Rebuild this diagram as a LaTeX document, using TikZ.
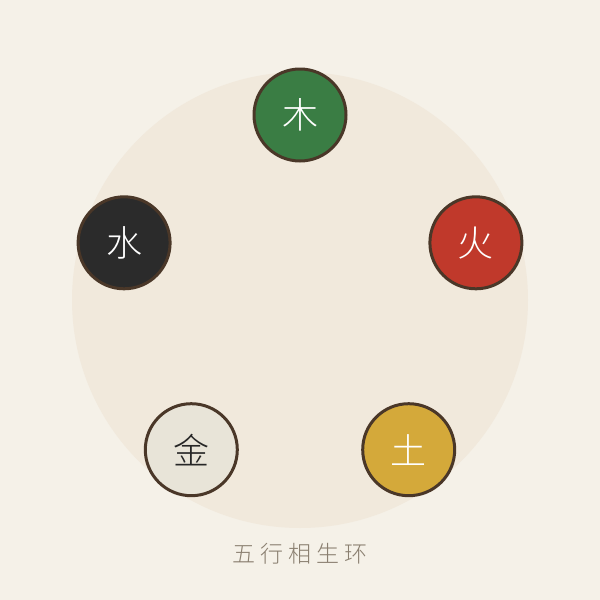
\documentclass[tikz,border=0pt]{standalone}
\usepackage{fontspec}
\newfontfamily\cjk{Noto Sans CJK SC}[UprightFont={* Light}]
\begin{document}
\begin{tikzpicture}[x=1pt,y=-1pt,
  elem/.style={circle,draw=borderc,line width=3pt,minimum size=92pt,inner sep=0pt,font=\cjk\fontsize{36}{36}\selectfont},
  titletext/.style={font=\cjk\fontsize{23}{23}\selectfont,text=capc}]
\definecolor{bgc}{HTML}{F5F1E8}
\definecolor{ringc}{HTML}{F1E9DC}
\definecolor{borderc}{HTML}{4A3728}
\definecolor{woodc}{HTML}{3A7D44}
\definecolor{firec}{HTML}{C0392B}
\definecolor{earthc}{HTML}{D4A93A}
\definecolor{metalc}{HTML}{E8E4D8}
\definecolor{waterc}{HTML}{2B2B2B}
\definecolor{capc}{HTML}{8A7F70}
\useasboundingbox (0,0) rectangle (600,600);
\fill[bgc] (0,0) rectangle (600,600);
\fill[ringc] (300,300) circle[radius=228];
\node[elem,fill=woodc,text=white] (wood) at (300,115) {木};
\node[elem,fill=firec,text=white] (fire) at (475.9,242.8) {火};
\node[elem,fill=earthc,text=white] (earth) at (408.7,449.7) {土};
\node[elem,fill=metalc,text=black!85] (metal) at (191.3,449.7) {金};
\node[elem,fill=waterc,text=white] (water) at (124.1,242.8) {水};
\node[titletext] (title) at (300,554) {五\hspace{5pt}行\hspace{5pt}相\hspace{5pt}生\hspace{5pt}环};
\end{tikzpicture}
\end{document}
